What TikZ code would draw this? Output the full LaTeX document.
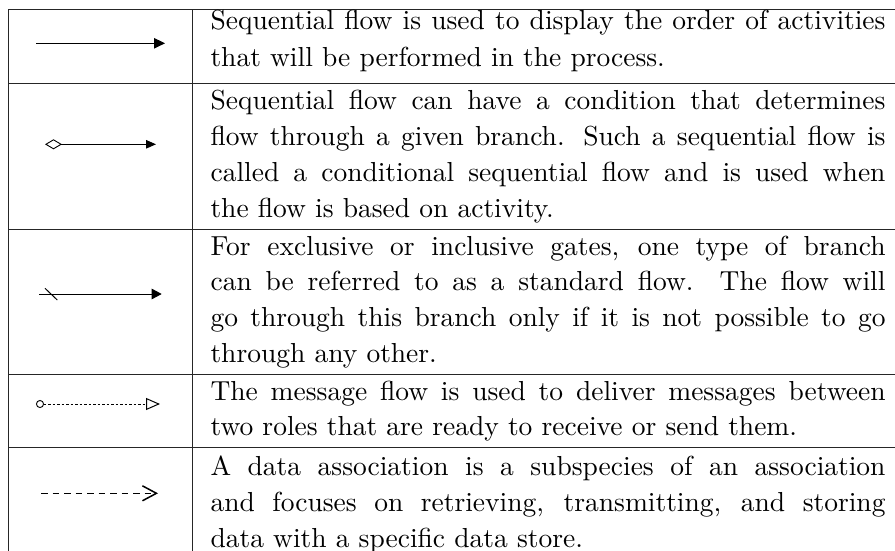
\documentclass[tikz,border=0pt]{standalone}
\usetikzlibrary{arrows.meta}
\begin{document}
\begin{tikzpicture}[x=1pt,y=-1pt,
  rule/.style={line width=1pt, draw=black!85},
  txt/.style={inner sep=0pt, anchor=base west, scale=2.75, transform shape, font=\fontsize{10}{12}\selectfont},
  flow/.style={line width=1pt, draw=black}]
\useasboundingbox (0,0) rectangle (895,551);
% table rules
\coordinate (L0) at (8.3,10);   \coordinate (R0) at (895,10);
\coordinate (L1) at (8.3,84);   \coordinate (R1) at (895,84);
\coordinate (L2) at (8.3,229.3);\coordinate (R2) at (895,229.3);
\coordinate (L3) at (8.3,374.8);\coordinate (R3) at (895,374.8);
\coordinate (L4) at (8.3,447.8);\coordinate (R4) at (895,447.8);
\coordinate (LB) at (8.3,551);
\coordinate (C0) at (192.7,10); \coordinate (CB) at (192.7,551);
\draw[rule] (LB) -- (L0) -- (R0);
\draw[rule] (C0) -- (CB);
\draw[rule] (L1) -- (R1);
\draw[rule] (L2) -- (R2);
\draw[rule] (L3) -- (R3);
\draw[rule] (L4) -- (R4);
% row 1 symbol
\coordinate (a1s) at (36,43.3); \coordinate (a1e) at (165,43.3);
\draw[flow,-{Triangle[length=11pt,width=10.5pt]}] (a1s) -- (a1e);
% row 2 symbol
\coordinate (a2s) at (45,144.3); \coordinate (a2e) at (156,144.3);
\draw[flow,{Diamond[open,length=17pt,width=10pt,line width=0.9pt]}-{Triangle[length=10pt,width=8.5pt]}] (a2s) -- (a2e);
% row 3 symbol
\coordinate (a3s) at (39,294); \coordinate (a3e) at (161.7,294);
\draw[flow,-{Triangle[length=10pt,width=10.5pt]}] (a3s) -- (a3e);
\coordinate (s3a) at (45,288.3); \coordinate (s3b) at (57.3,300);
\draw[flow] (s3a) -- (s3b);
% row 4 symbol
\coordinate (a4s) at (36,404); \coordinate (a4e) at (160,404);
\draw[line width=0.8pt, dash pattern=on 2.5pt off 2pt,
  {Circle[open,length=8pt,width=8pt,line width=0.9pt]}-{Triangle[open,length=14pt,width=12pt,line width=1pt]}] (a4s) -- (a4e);
% row 5 symbol
\coordinate (a5s) at (41,493.3); \coordinate (a5e) at (158,493.3);
\draw[line width=1.6pt, dash pattern=on 6.5pt off 5pt,
  -{Straight Barb[length=14pt,width=15pt,line width=1.5pt]}] (a5s) -- (a5e);
% texts
\node[txt] (t11) at (210,29.5) {\makebox[245.45pt][s]{Sequential flow is used to display the order of activities}};
\node[txt] (t12) at (210,66.3) {that will be performed in the process.};
\node[txt] (t21) at (210,110) {\makebox[245.45pt][s]{Sequential flow can have a condition that determines}};
\node[txt] (t22) at (210,145.8) {\makebox[245.45pt][s]{flow through a given branch. Such a sequential flow is}};
\node[txt] (t23) at (210,181.7) {\makebox[245.45pt][s]{called a conditional sequential flow and is used when}};
\node[txt] (t24) at (210,217.7) {the flow is based on activity.};
\node[txt] (t31) at (210,255) {\makebox[245.45pt][s]{For exclusive or inclusive gates, one type of branch}};
\node[txt] (t32) at (210,290.8) {\makebox[245.45pt][s]{can be referred to as a standard flow. The flow will}};
\node[txt] (t33) at (210,326.7) {\makebox[245.45pt][s]{go through this branch only if it is not possible to go}};
\node[txt] (t34) at (210,362.7) {through any other.};
\node[txt] (t41) at (210,400) {\makebox[245.45pt][s]{The message flow is used to deliver messages between}};
\node[txt] (t42) at (210,435.7) {two roles that are ready to receive or send them.};
\node[txt] (t51) at (210,475) {\makebox[245.45pt][s]{A data association is a subspecies of an association}};
\node[txt] (t52) at (210,511) {\makebox[245.45pt][s]{and focuses on retrieving, transmitting, and storing}};
\node[txt] (t53) at (210,547) {data with a specific data store.};
\end{tikzpicture}
\end{document}
